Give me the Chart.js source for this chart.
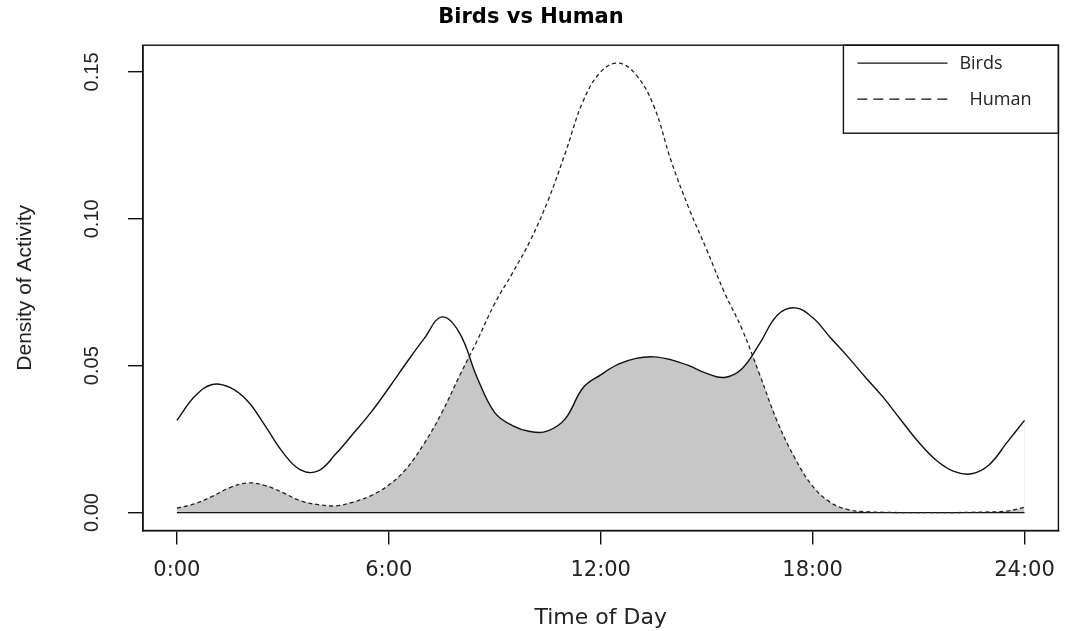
<!DOCTYPE html>
<html>
<head>
<meta charset="utf-8">
<title>Birds vs Human</title>
<script src="https://cdn.jsdelivr.net/npm/chart.js@4.4.1/dist/chart.umd.min.js"></script>
<style>
  html, body { margin: 0; padding: 0; background: #fff; }
  #wrap { width: 1068px; height: 631px; position: relative; }
</style>
</head>
<body>
<div id="wrap"><canvas id="activityChart"></canvas></div>
<script>
// time of day (hours) and the two density curves
const hours = [
  0, 0.5, 1, 1.5, 2, 2.5, 3, 3.5, 4, 4.5, 5, 5.5, 6, 6.5, 7, 7.5, 8, 8.5, 9, 9.5,
  10, 10.5, 11, 11.5, 12, 12.5, 13, 13.5, 14, 14.5, 15, 15.5, 16, 16.5, 17, 17.5,
  18, 18.5, 19, 19.5, 20, 20.5, 21, 21.5, 22, 22.5, 23, 23.5, 24,
];
const birdsDensity = [
  0.0314, 0.0395, 0.0436, 0.0426, 0.0380, 0.0295, 0.0205, 0.0145, 0.0142, 0.0200,
  0.0270, 0.0342, 0.0424, 0.0510, 0.0592, 0.0666, 0.0612, 0.0460, 0.0340, 0.0296,
  0.0276, 0.0278, 0.0320, 0.0425, 0.0469, 0.0505, 0.0525, 0.0530, 0.0520, 0.0500,
  0.0474, 0.0460, 0.0490, 0.0575, 0.0672, 0.0697, 0.0664, 0.0596, 0.0530, 0.0460,
  0.0392, 0.0315, 0.0240, 0.0178, 0.0140, 0.0132, 0.0163, 0.0238, 0.0314,
];
const humanDensity = [
  0.0015, 0.0030, 0.0055, 0.0085, 0.0101, 0.0092, 0.0068, 0.0040, 0.0027, 0.0023,
  0.0036, 0.0058, 0.0094, 0.0150, 0.0235, 0.0340, 0.0465, 0.0585, 0.0712, 0.0815,
  0.0925, 0.1060, 0.1225, 0.1400, 0.1500, 0.1530, 0.1490, 0.1385, 0.1195, 0.1035,
  0.0895, 0.0750, 0.0625, 0.0470, 0.0310, 0.0185, 0.0090, 0.0035, 0.0010, 0.0003,
  0.0001, 0.0000, 0.0000, 0.0000, 0.0000, 0.0001, 0.0002, 0.0005, 0.0018,
];
const xTickHours = [0, 6, 12, 18, 24];
const xTickLabels = ['0:00', '6:00', '12:00', '18:00', '24:00'];
const yTickValues = [0, 0.05, 0.1, 0.15];
const seriesLabels = ['Birds', 'Human'];

const INK = '#111111';
const TEXT = '#222222';
const GREY = 'rgb(199,199,199)';
const NONE = 'rgba(0,0,0,0)';

const toPoints = (values) => values.map((y, i) => ({ x: hours[i], y }));

// R style box round the plot region
const plotFrame = {
  id: 'plotFrame',
  afterDraw(chart) {
    const { ctx, chartArea: a } = chart;
    ctx.save();
    ctx.strokeStyle = INK;
    ctx.lineWidth = 1.4;
    ctx.strokeRect(a.left, a.top, a.right - a.left, a.bottom - a.top);
    ctx.restore();
  },
};

// y tick labels turned on their side, as R draws them
const sideTicks = {
  id: 'sideTicks',
  afterDraw(chart) {
    const { ctx } = chart;
    const y = chart.scales.y;
    ctx.save();
    ctx.font = '20px "Liberation Sans", Arial, sans-serif';
    ctx.fillStyle = TEXT;
    ctx.textAlign = 'center';
    ctx.textBaseline = 'middle';
    y.ticks.forEach((t) => {
      ctx.save();
      ctx.translate(y.right - 51, y.getPixelForValue(t.value));
      ctx.rotate(-Math.PI / 2);
      ctx.fillText(t.value.toFixed(2), 0, 0);
      ctx.restore();
    });
    ctx.restore();
  },
};

// boxed legend in the top right corner
const boxLegend = {
  id: 'boxLegend',
  afterDraw(chart) {
    const { ctx, chartArea: a } = chart;
    const left = a.right - 215;
    const top = a.top;
    const rows = [
      { ds: chart.data.datasets[0], y: top + 18, end: left + 104, textX: left + 116, dash: [] },
      { ds: chart.data.datasets[1], y: top + 54, end: left + 108, textX: left + 126, dash: [10, 6] },
    ];
    ctx.save();
    ctx.strokeStyle = INK;
    ctx.lineWidth = 1.4;
    ctx.strokeRect(left, top, a.right - left, 88);
    ctx.font = '18px "Open Sans", sans-serif';
    ctx.fillStyle = TEXT;
    ctx.textBaseline = 'middle';
    rows.forEach((r) => {
      ctx.setLineDash(r.dash);
      ctx.lineWidth = 1.3;
      ctx.beginPath();
      ctx.moveTo(left + 14, r.y);
      ctx.lineTo(r.end, r.y);
      ctx.stroke();
      ctx.setLineDash([]);
      ctx.fillText(r.ds.label, r.textX, r.y + 1);
    });
    ctx.restore();
  },
};

const lineBase = {
  pointRadius: 0,
  pointHoverRadius: 0,
  tension: 0.4,
  fill: false,
};

const datasets = [
  { ...lineBase, label: seriesLabels[0], data: toPoints(birdsDensity), borderColor: INK, borderWidth: 1.4, order: 0 },
  { ...lineBase, label: seriesLabels[1], data: toPoints(humanDensity), borderColor: TEXT, borderWidth: 1.3, borderDash: [4, 3], order: 1 },
  // zero line under the shaded overlap
  {
    ...lineBase,
    label: 'zero',
    data: [{ x: hours[0], y: 0 }, { x: hours[hours.length - 1], y: 0 }],
    borderColor: INK,
    borderWidth: 1.3,
    tension: 0,
    order: 2,
  },
  // overlap shading: grey under birds, then cleared where birds sits above human
  {
    ...lineBase,
    label: 'under birds',
    data: toPoints(birdsDensity),
    borderColor: NONE,
    borderWidth: 0,
    backgroundColor: GREY,
    fill: 'origin',
    order: 4,
  },
  {
    ...lineBase,
    label: 'cut',
    data: toPoints(birdsDensity),
    borderColor: NONE,
    borderWidth: 0,
    fill: { target: 1, above: '#ffffff', below: NONE },
    order: 3,
  },
];

new Chart(document.getElementById('activityChart'), {
  type: 'line',
  data: { datasets },
  options: {
    responsive: true,
    maintainAspectRatio: false,
    animation: false,
    events: [],
    layout: { padding: { left: 0, right: 6, top: 0, bottom: 0 } },
    plugins: {
      legend: { display: false },
      tooltip: { enabled: false },
      filler: { drawTime: 'beforeDatasetsDraw' },
      title: {
        display: true,
        text: 'Birds vs Human',
        color: '#000',
        font: { family: '"DejaVu Sans", sans-serif', size: 21, weight: 'bold' },
        padding: { top: 5, bottom: 15 },
      },
    },
    scales: {
      x: {
        type: 'linear',
        min: -0.96,
        max: 24.96,
        afterBuildTicks: (scale) => {
          scale.ticks = xTickHours.map((value) => ({ value }));
        },
        afterFit: (scale) => {
          scale.height = 100.5;
        },
        ticks: {
          autoSkip: false,
          maxRotation: 0,
          padding: 13,
          color: TEXT,
          font: { family: '"DejaVu Sans", sans-serif', size: 21 },
          callback: (value, i) => xTickLabels[i],
        },
        grid: { drawOnChartArea: false, drawTicks: true, tickLength: 14, color: INK, lineWidth: 1.4 },
        border: { display: true, color: INK, width: 1.4 },
        title: {
          display: true,
          text: 'Time of Day',
          color: TEXT,
          font: { family: '"DejaVu Sans", sans-serif', size: 22 },
          padding: { top: 0, bottom: 0 },
        },
      },
      y: {
        min: -0.0061,
        max: 0.1591,
        afterBuildTicks: (scale) => {
          scale.ticks = yTickValues.map((value) => ({ value }));
        },
        afterFit: (scale) => {
          scale.width = 143;
        },
        ticks: { display: false },
        grid: { drawOnChartArea: false, drawTicks: true, tickLength: 15, color: INK, lineWidth: 1.4 },
        border: { display: true, color: INK, width: 1.4 },
        title: {
          display: true,
          text: 'Density of Activity',
          color: TEXT,
          font: { family: '"Liberation Sans", Arial, sans-serif', size: 21 },
          padding: { top: 13, bottom: 0 },
        },
      },
    },
  },
  plugins: [plotFrame, sideTicks, boxLegend],
});
</script>
</body>
</html>
